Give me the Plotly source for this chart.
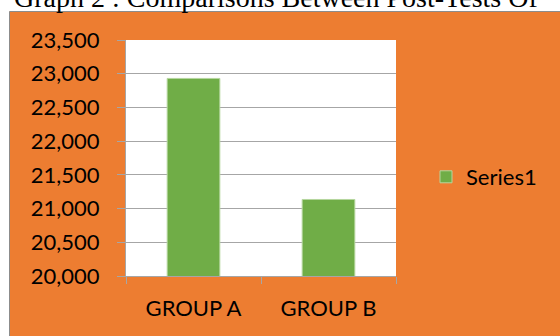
import plotly.graph_objects as go

categories = ["GROUP A", "GROUP B"]
series1 = [22930, 21135]
series_name = "Series1"
title_text = "Graph 2 : Comparisons Between Post-Tests Of"

W, H = 560, 336
L, R, T, B = 126, 396, 40, 276  # plot area in px

def px_x(p):
    return (p - L) / (R - L)

def px_y(p):
    return (B - p) / (B - T)

ORANGE = "#ED7D31"
GREEN = "#70AD47"
GRID = "#A6A6A6"
FONT = "Lato"

fig = go.Figure()
fig.add_trace(go.Bar(
    x=categories, y=series1, name=series_name,
    marker=dict(color=GREEN, line=dict(color="#B5D69E", width=1)),
))

fig.update_layout(
    width=W, height=H,
    margin=dict(l=L, r=W - R, t=T, b=H - B, pad=0),
    paper_bgcolor="white",
    plot_bgcolor="white",
    bargap=0.61,
    showlegend=True,
    legend=dict(x=px_x(426), y=px_y(177), xanchor="left", yanchor="middle",
                font=dict(family=FONT, size=22, color="black"),
                bgcolor="rgba(0,0,0,0)"),
    font=dict(family=FONT, size=22, color="black"),
    shapes=[
        dict(type="rect", xref="paper", yref="paper", layer="below",
             x0=px_x(9.5), x1=px_x(580), y0=px_y(360), y1=px_y(11.5),
             fillcolor=ORANGE, line=dict(color="#8C8C8C", width=1)),
        dict(type="rect", xref="paper", yref="paper", layer="below",
             x0=0, x1=1, y0=0, y1=1, fillcolor="white", line=dict(width=0)),
    ],
    annotations=[
        dict(text=title_text, xref="paper", yref="paper",
             x=px_x(276), y=px_y(-3), xanchor="center", yanchor="middle",
             showarrow=False,
             font=dict(family="Liberation Serif", size=28, color="black")),
    ],
)

fig.update_yaxes(
    range=[20000, 23500], dtick=500, tickformat=",d",
    showgrid=True, gridcolor=GRID, gridwidth=1,
    showline=True, linecolor=GRID, linewidth=1,
    ticks="outside", ticklen=8, tickcolor=GRID,
    ticklabelstandoff=13,
    tickfont=dict(family=FONT, size=22, color="black"),
    zeroline=False,
)
fig.update_xaxes(
    showline=True, linecolor=GRID, linewidth=1,
    ticks="outside", ticklen=7, tickcolor=GRID, tickson="boundaries",
    ticklabelstandoff=13,
    tickfont=dict(family=FONT, size=22, color="black"),
)

fig.write_html("out.html")
